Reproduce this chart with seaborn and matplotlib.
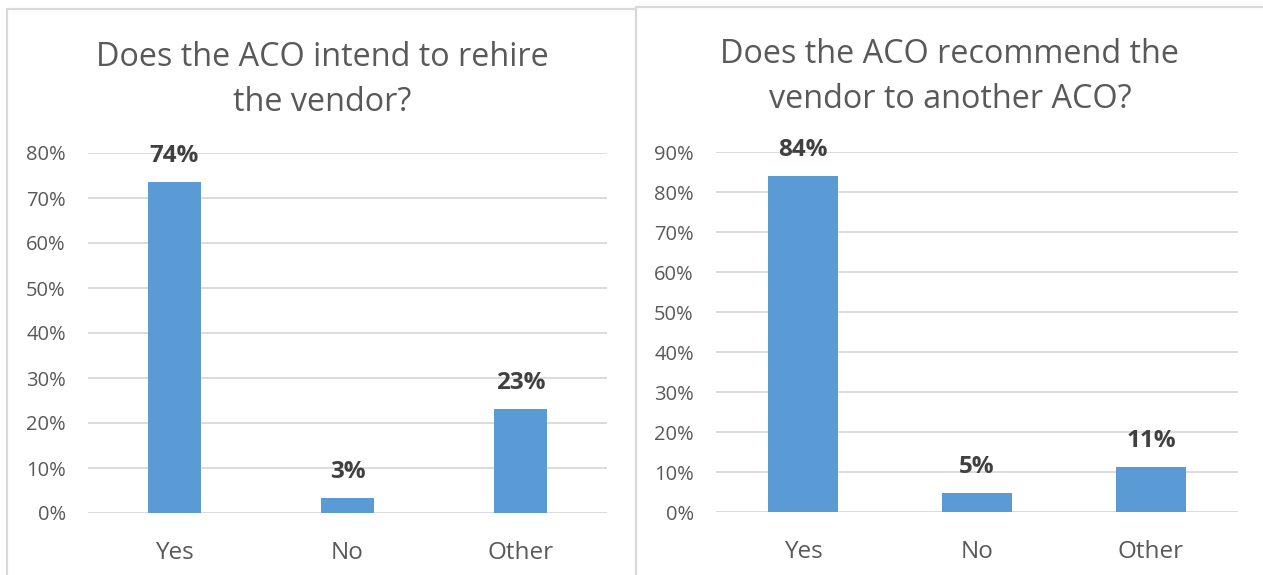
import matplotlib
matplotlib.use("Agg")
import matplotlib.pyplot as plt
import seaborn as sns
import pandas as pd
from matplotlib.patches import Rectangle

categories = ["Yes", "No", "Other"]
rehire_values = [0.735, 0.033, 0.231]
recommend_values = [0.84, 0.048, 0.112]
title_left = "Does the ACO intend to rehire\nthe vendor?"
title_right = "Does the ACO recommend the\nvendor to another ACO?"
left_ticks = [0, 0.1, 0.2, 0.3, 0.4, 0.5, 0.6, 0.7, 0.8]
right_ticks = [0, 0.1, 0.2, 0.3, 0.4, 0.5, 0.6, 0.7, 0.8, 0.9]

sns.set_theme(style="white")
plt.rcParams['font.family'] = ['Open Sans', 'DejaVu Sans']

W, H = 1263, 575
fig = plt.figure(figsize=(W / 100, H / 100), dpi=100)
fig.patch.set_facecolor("white")

BAR = "#5b9bd5"
GRID = "#d9d9d9"
TXT = "#595959"
LBL = "#404040"

def px_axes(x0, x1, ytop, ybot):
    return fig.add_axes([x0 / W, 1 - ybot / H, (x1 - x0) / W, (ybot - ytop) / H])

# panel borders
fig.add_artist(Rectangle((7 / W, -0.1), (636 - 7) / W, 1.1 - 9 / H, transform=fig.transFigure,
                         fill=False, edgecolor=GRID, linewidth=1.6))
fig.add_artist(Rectangle((636 / W, -0.1), 1.2, 1.1 - 7 / H, transform=fig.transFigure,
                         fill=False, edgecolor=GRID, linewidth=1.6))

def draw(ax, vals, ticks, width):
    df = pd.DataFrame({"cat": categories, "val": vals})
    sns.barplot(data=df, x="cat", y="val", color=BAR, width=width, ax=ax,
                saturation=1, edgecolor="none")
    ax.set_ylim(0, ticks[-1])
    ax.set_xlim(-0.5, 2.5)
    ax.set_yticks(ticks)
    ax.set_yticklabels([f"{int(round(t * 100))}%" for t in ticks])
    ax.grid(axis="y", color=GRID, linewidth=1.3)
    ax.grid(axis="x", visible=False)
    ax.set_axisbelow(True)
    for s in ax.spines.values():
        s.set_visible(False)
    ax.tick_params(axis="y", length=0, pad=16, labelsize=14.5, labelcolor=TXT)
    ax.tick_params(axis="x", length=0, pad=20, labelsize=17.5, labelcolor=TXT)
    ax.set_xlabel("")
    ax.set_ylabel("")
    ax.patch.set_alpha(0)
    ax.bar_label(ax.containers[0], labels=[f"{round(v * 100)}%" for v in vals],
                 padding=10, fontsize=17.5, fontweight="bold", color=LBL)

axl = px_axes(88, 607, 153, 513)
draw(axl, rehire_values, left_ticks, 0.31)
axr = px_axes(716, 1238, 152, 512)
draw(axr, recommend_values, right_ticks, 0.40)

fig.text(322 / W, 1 - 80 / H, title_left, ha="center", va="center", fontsize=23.3,
         color=TXT, linespacing=1.5)
fig.text(950 / W, 1 - 77 / H, title_right, ha="center", va="center", fontsize=23.3,
         color=TXT, linespacing=1.5)

fig.savefig("out.png", dpi=100)
